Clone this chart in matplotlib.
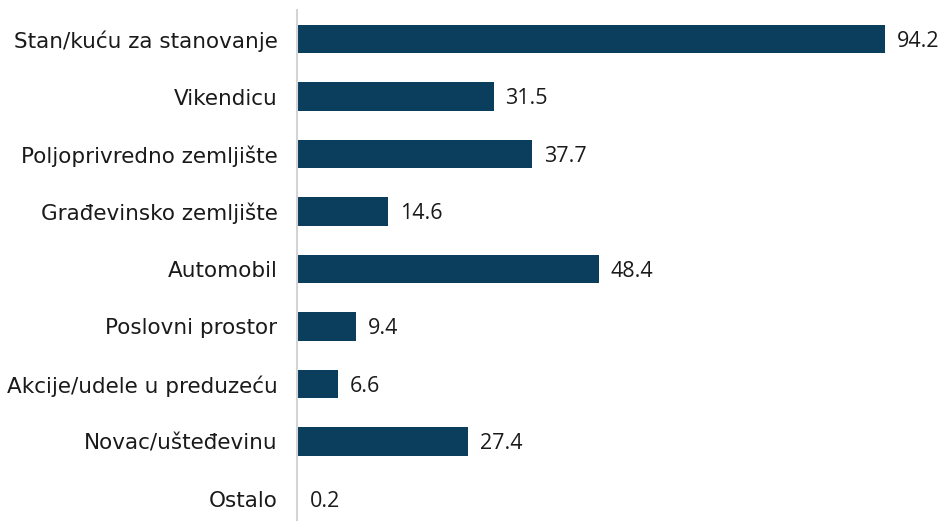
import matplotlib
matplotlib.use("Agg")
import matplotlib.pyplot as plt

categories = [
    "Stan/kuću za stanovanje",
    "Vikendicu",
    "Poljoprivredno zemljište",
    "Građevinsko zemljište",
    "Automobil",
    "Poslovni prostor",
    "Akcije/udele u preduzeću",
    "Novac/ušteđevinu",
    "Ostalo",
]
values = [94.2, 31.5, 37.7, 14.6, 48.4, 9.4, 6.6, 27.4, 0.2]
value_labels = ["94.2", "31.5", "37.7", "14.6", "48.4", "9.4", "6.6", "27.4", "0.2"]

bar_color = "#0b3d5c"

fig = plt.figure(figsize=(9.46, 5.21), dpi=100)
ax = fig.add_axes([0.314, 0.0, 0.6596, 0.9803])

pos = list(range(len(categories)))
ax.barh(pos, values, height=0.49, color=bar_color)

ax.set_xlim(0, 100)
ax.set_ylim(8.383, -0.5)

ax.set_yticks(pos)
ax.set_yticklabels(categories, fontsize=15.5, color="#1a1a1a", family="DejaVu Sans")
ax.tick_params(axis="y", length=0, pad=14)
ax.set_xticks([])

for s in ["top", "right", "bottom"]:
    ax.spines[s].set_visible(False)
ax.spines["left"].set_color("#d4d4d4")
ax.spines["left"].set_linewidth(1.5)

for p, v, lab in zip(pos, values, value_labels):
    ax.annotate(lab, xy=(v, p), xytext=(8.5, -1.5), textcoords="offset points",
                va="center", ha="left", fontsize=15.5, color="#1a1a1a",
                family="Open Sans")

fig.savefig("out.png", dpi=100)
